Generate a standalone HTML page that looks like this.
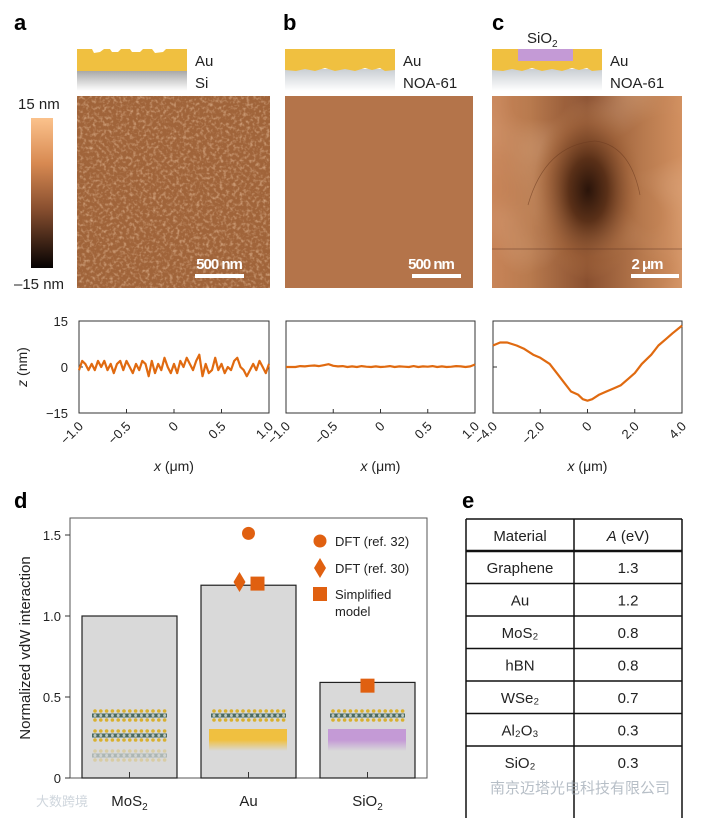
<!DOCTYPE html>
<html><head><meta charset="utf-8">
<style>
body{margin:0;background:#fff;}
#wrap{position:relative;width:714px;height:818px;overflow:hidden;font-family:"Liberation Sans","Noto Sans CJK SC",sans-serif;}
svg{position:absolute;left:0;top:0;}
text{font-family:"Liberation Sans","Noto Sans CJK SC",sans-serif;}
</style></head>
<body>
<div id="wrap">
<svg id="fig" width="714" height="818" viewBox="0 0 714 818">
<defs>
<filter id="grain" x="0" y="0" width="100%" height="100%">
<feTurbulence type="fractalNoise" baseFrequency="0.3" numOctaves="2" seed="3"/>
<feColorMatrix type="matrix" values="0 0 0 0 0.80  0 0 0 0 0.52  0 0 0 0 0.33  0 0 0 1.6 -0.75"/>
</filter>
<filter id="soft" x="0" y="0" width="100%" height="100%">
<feTurbulence type="fractalNoise" baseFrequency="0.012" numOctaves="2" seed="8"/>
<feColorMatrix type="matrix" values="0 0 0 0 0.85  0 0 0 0 0.58  0 0 0 0 0.40  0 0 0 0.8 -0.35"/>
</filter>
<linearGradient id="cbar" x1="0" y1="0" x2="0" y2="1">
<stop offset="0" stop-color="#fbc28c"/><stop offset="0.3" stop-color="#d88a52"/><stop offset="0.6" stop-color="#8a5030"/><stop offset="1" stop-color="#050202"/>
</linearGradient>
<linearGradient id="fadeGray" x1="0" y1="0" x2="0" y2="1"><stop offset="0" stop-color="#a8a8a8"/><stop offset="1" stop-color="#fff"/></linearGradient>
<linearGradient id="fadeNoa" x1="0" y1="0" x2="0" y2="1"><stop offset="0" stop-color="#c9ced3"/><stop offset="1" stop-color="#fff"/></linearGradient>
<linearGradient id="fadeAu" x1="0" y1="0" x2="0" y2="1"><stop offset="0.5" stop-color="#f0c040"/><stop offset="1" stop-color="#f0c040" stop-opacity="0"/></linearGradient>
<linearGradient id="fadeSi" x1="0" y1="0" x2="0" y2="1"><stop offset="0.5" stop-color="#c49ad6"/><stop offset="1" stop-color="#c49ad6" stop-opacity="0"/></linearGradient>
<radialGradient id="cdark" cx="0.5" cy="0.5" r="0.5">
<stop offset="0" stop-color="#2a140a"/><stop offset="0.35" stop-color="#5a3018"/><stop offset="0.75" stop-color="#9a5e36" stop-opacity="0.6"/><stop offset="1" stop-color="#b07444" stop-opacity="0"/>
</radialGradient>
<linearGradient id="cside" x1="0" y1="0" x2="1" y2="0">
<stop offset="0" stop-color="#c88458"/><stop offset="0.2" stop-color="#b87a4e"/><stop offset="0.5" stop-color="#8a5030"/><stop offset="0.8" stop-color="#b87a4e"/><stop offset="1" stop-color="#d29060"/>
</linearGradient>
</defs>

<!-- panel labels -->
<text x="14" y="30" font-size="22" font-weight="bold">a</text>
<text x="283" y="30" font-size="22" font-weight="bold">b</text>
<text x="492" y="30" font-size="22" font-weight="bold">c</text>
<text x="14" y="508" font-size="22" font-weight="bold">d</text>
<text x="462" y="508" font-size="22" font-weight="bold">e</text>

<!-- schematics -->
<g>
<rect x="77" y="71" width="110" height="20" fill="url(#fadeGray)"/>
<path d="M77 49 L92 49 L94 53 L100 52 L104 49 L110 49 L112 52 L118 52 L121 49 L130 49 L132 52 L140 52 L143 49 L152 49 L155 53 L163 52 L166 49 L187 49 L187 71 L77 71 Z" fill="#f0c040"/>
<text x="195" y="66" font-size="15" fill="#222">Au</text><text x="195" y="88" font-size="15" fill="#222">Si</text>
</g>
<g>
<rect x="285" y="69" width="110" height="22" fill="url(#fadeNoa)"/>
<path d="M285 49 L395 49 L395 70 L385 71 L380 68 L372 70 L365 68 L355 71 L345 69 L335 71 L325 68 L315 71 L305 69 L296 71 L285 70 Z" fill="#f0c040"/>
<text x="403" y="66" font-size="15" fill="#222">Au</text><text x="403" y="88" font-size="15" fill="#222">NOA-61</text>
</g>
<g>
<rect x="492" y="69" width="110" height="22" fill="url(#fadeNoa)"/>
<path d="M492 49 L602 49 L602 70 L592 71 L587 68 L579 70 L572 68 L562 71 L552 69 L542 71 L532 68 L522 71 L512 69 L503 71 L492 70 Z" fill="#f0c040"/>
<rect x="518" y="49" width="55" height="12" fill="#c49ad6"/>
<text x="527" y="43" font-size="15" fill="#222">SiO<tspan font-size="10" dy="4">2</tspan></text>
<text x="610" y="66" font-size="15" fill="#222">Au</text><text x="610" y="88" font-size="15" fill="#222">NOA-61</text>
</g>

<!-- colorbar -->
<g>
<rect x="31" y="118" width="22" height="150" fill="url(#cbar)"/>
<text x="18" y="109" font-size="15" fill="#222">15 nm</text>
<text x="14" y="289" font-size="15" fill="#222">–15 nm</text>
</g>

<!-- AFM images -->
<g>
<rect x="77" y="96" width="193" height="192" fill="#a0643a"/>
<rect x="77" y="96" width="193" height="192" filter="url(#grain)"/>
<rect x="195" y="274" width="49" height="4" fill="#fff"/>
<text x="219" y="269" font-size="15" font-weight="bold" fill="#fff" text-anchor="middle" letter-spacing="-1">500 nm</text>
</g>
<g>
<rect x="285" y="96" width="188" height="192" fill="#b4744a"/>
<rect x="412" y="274" width="49" height="4" fill="#fff"/>
<text x="431" y="269" font-size="15" font-weight="bold" fill="#fff" text-anchor="middle" letter-spacing="-1">500 nm</text>
</g>
<g>
<rect x="492" y="96" width="190" height="192" fill="url(#cside)"/>
<rect x="492" y="96" width="190" height="192" filter="url(#soft)"/>
<ellipse cx="588" cy="190" rx="55" ry="90" fill="url(#cdark)"/>
<path d="M528 205 Q545 145 595 141 Q630 145 640 195" fill="none" stroke="#6a3a20" stroke-width="0.7" opacity="0.6"/>
<line x1="492" y1="249" x2="682" y2="249" stroke="#5a3020" stroke-width="0.8" opacity="0.6"/>
<rect x="631" y="274" width="48" height="4" fill="#fff"/>
<text x="647" y="269" font-size="15" font-weight="bold" fill="#fff" text-anchor="middle" letter-spacing="-1">2 μm</text>
</g>

<text transform="translate(27,367) rotate(-90)" font-size="14" text-anchor="middle" fill="#222"><tspan font-style="italic">z</tspan> (nm)</text>
<g id="profiles"></g>

<g id="chartd"></g>
<g id="tablee"></g>

<text x="490" y="793" font-size="15" fill="#9aa4b0" opacity="0.7">南京迈塔光电科技有限公司</text>
<text x="36" y="806" font-size="13" fill="#cfd6dd">大数跨境</text>
</svg>
</div>
<script>
// ---------- profile data ----------
const profAz = [-1,2,1,-1,1,-1,2,0,2,-1,1,-2,1,2,-1,2,0,-2,1,-1,2,1,-3,2,-2,1,-1,3,0,-2,1,-2,2,0,3,1,-1,2,4,-3,1,-2,-1,3,-1,1,-2,0,-1,2,3,0,-1,-3,-1,1,-1,2,0,-2,1];
const profBz = [0,0,0,0.3,0.2,0.4,0.5,0.3,0.6,0.9,0.4,0.2,0.3,0,0.2,0,0.3,0.1,0,0.2,0,0.1,0.3,0,0.2,0.1,0,0.3,0,0.2,0.1,0.3,0,0.2,0,0.1,0.3,0.2,0,0.2,0.8];
const profCx = [-4.0,-3.7,-3.4,-3.0,-2.7,-2.3,-2.0,-1.6,-1.3,-1.0,-0.7,-0.4,-0.2,0,0.2,0.5,0.8,1.1,1.4,1.7,2.0,2.3,2.7,3.0,3.3,3.6,4.0];
const profCz = [7,8,8,7,6,4,3,1,-2,-5,-8,-9,-10.5,-11,-10.5,-9,-8,-7,-6,-4,-2,1,4,7,9,11,13.5];
const xTicksAB = [-1.0,-0.5,0,0.5,1.0];
const xTickLabelsAB = ["−1.0","−0.5","0","0.5","1.0"];
const xTicksC = [-4,-2,0,2,4];
const xTickLabelsC = ["−4.0","−2.0","0","2.0","4.0"];
const yTicks = [15,0,-15];

// ---------- bar chart data ----------
const barCats = ["MoS2","Au","SiO2"];
const barVals = [1.0,1.19,0.59];
const dft32 = [null,1.51,null];
const dft30 = [null,1.21,null];
const simple = [null,1.2,0.57];
const barYTicks = [0,0.5,1.0,1.5];
const barYTickLabels = ["0","0.5","1.0","1.5"];

// ---------- table data ----------
const tblMaterials = ["Graphene","Au","MoS₂","hBN","WSe₂","Al₂O₃","SiO₂"];
const tblA = ["1.3","1.2","0.8","0.8","0.7","0.3","0.3"];

const NS="http://www.w3.org/2000/svg";
function mk(tag,attrs,parent){const e=document.createElementNS(NS,tag);for(const k in attrs)e.setAttribute(k,attrs[k]);parent.appendChild(e);return e;}

const prof=document.getElementById('profiles');
function drawProfile(name,x0,x1,xmin,xmax,xs,zs,ticks,labels){
  const y0=321,y1=413;
  const sx=v=>x0+(v-xmin)/(xmax-xmin)*(x1-x0);
  const sy=v=>y0+(15-v)/30*(y1-y0);
  const g=mk('g',{},prof);
  
  
  const fr=mk('rect',{x:x0,y:y0,width:x1-x0,height:y1-y0,fill:'none',stroke:'#333','stroke-width':1},g);
  
  
  ticks.forEach((t,i)=>{
    mk('line',{x1:sx(t),x2:sx(t),y1:y1,y2:y1-4,stroke:'#333'},g);
    const tx=mk('text',{x:0,y:0,'font-size':13,fill:'#222','text-anchor':'end',transform:`translate(${sx(t)+5},${y1+14}) rotate(-45)`},g);
    tx.textContent=labels[i];
    
    
  });
  yTicks.forEach(t=>{mk('line',{x1:x0,x2:x0+4,y1:sy(t),y2:sy(t),stroke:'#333'},g);});
  let d='';
  zs.forEach((z,i)=>{const xv=xs?xs[i]:xmin+i*(xmax-xmin)/(zs.length-1);d+=(i?'L':'M')+sx(xv).toFixed(1)+' '+sy(z).toFixed(1);});
  const p=mk('path',{d:d,fill:'none',stroke:'#e06a10','stroke-width':2.2,'stroke-linejoin':'round'},g);
  
  
  const xt=mk('text',{x:(x0+x1)/2,y:471,'font-size':14,fill:'#222','text-anchor':'middle'},g);
  xt.innerHTML='<tspan font-style="italic">x</tspan> (μm)';
  
  
}
drawProfile('profile-a',79,269,-1,1,null,profAz,xTicksAB,xTickLabelsAB);
drawProfile('profile-b',286,475,-1,1,null,profBz,xTicksAB,xTickLabelsAB);
drawProfile('profile-c',493,682,-4,4,profCx,profCz,xTicksC,xTickLabelsC);
[['15',321],['0',367],['−15',413]].forEach(a=>{const t=mk('text',{x:68,y:a[1]+5,'font-size':13,fill:'#222','text-anchor':'end'},prof);t.textContent=a[0];

});

// ---------- chart d ----------
const cd=document.getElementById('chartd');
const X0=70,X1=427,Y0=778,YT=518;
const sy=v=>Y0-v*162;
const bw=95, bx=i=>82+i*119;
mk('rect',{x:X0,y:YT,width:X1-X0,height:Y0-YT,fill:'none',stroke:'#555','stroke-width':1},cd);
barYTicks.forEach((t,i)=>{mk('line',{x1:X0-5,x2:X0,y1:sy(t),y2:sy(t),stroke:'#333'},cd);
 const tx=mk('text',{x:X0-9,y:sy(t)+5,'font-size':13,fill:'#222','text-anchor':'end'},cd);tx.textContent=barYTickLabels[i];
 
 });
const yt=mk('text',{transform:'translate(30,648) rotate(-90)','font-size':15,fill:'#222','text-anchor':'middle'},cd);
yt.textContent='Normalized vdW interaction';


function layer(x,y,op,g){
  const l=mk('g',{opacity:op},g);
  for(let k=0;k<13;k++){const cx=x+3+k*5.8;
    mk('circle',{cx:cx,cy:y,r:1.8,fill:'#d8b030'},l);mk('circle',{cx:cx,cy:y+9,r:1.8,fill:'#d8b030'},l);}
  mk('rect',{x:x,y:y+2.5,width:75,height:4,fill:'#4a6a60'},l);
  for(let k=0;k<13;k++)mk('circle',{cx:x+3+k*5.8,cy:y+4.5,r:1.5,fill:'#c0c8c0'},l);
}
barCats.forEach((c,i)=>{
  const g=mk('g',{},cd);
  
  
  mk('rect',{x:bx(i),y:sy(barVals[i]),width:bw,height:Y0-sy(barVals[i]),fill:'#d9d9d9',stroke:'#222','stroke-width':1.2},g);
  mk('line',{x1:bx(i)+bw/2,x2:bx(i)+bw/2,y1:Y0,y2:Y0-6,stroke:'#333'},g);
  const lx=bx(i)+10;
  layer(lx,711,1,g);
  if(i===0){layer(lx,731,1,g);layer(lx,751,0.3,g);}
  if(i===1)mk('rect',{x:bx(i)+8,y:729,width:78,height:22,fill:'url(#fadeAu)'},g);
  if(i===2)mk('rect',{x:bx(i)+8,y:729,width:78,height:22,fill:'url(#fadeSi)'},g);
  const lab=mk('text',{x:bx(i)+bw/2,y:806,'font-size':15,fill:'#222','text-anchor':'middle'},cd);
  lab.innerHTML=c.replace('2','<tspan font-size="10" dy="4">2</tspan>');
  
  
  const cx=bx(i)+bw/2;
  if(dft32[i]!=null){const m=mk('circle',{cx:cx,cy:sy(dft32[i]),r:6.5,fill:'#e06010'},cd);
    
    }
  if(dft30[i]!=null){const y=sy(dft30[i]);const m=mk('path',{d:`M${cx-9} ${y-10} l6 10 l-6 10 l-6 -10 Z`,fill:'#e06010'},cd);
    
    }
  if(simple[i]!=null){const dx=i===1?9:0;const y=sy(simple[i]);const m=mk('rect',{x:cx+dx-7,y:y-7,width:14,height:14,fill:'#e06010'},cd);
    
    }
});
const lg=mk('g',{},cd);


mk('circle',{cx:320,cy:541,r:6.5,fill:'#e06010'},lg);
mk('path',{d:'M320 558 l6 10 l-6 10 l-6 -10 Z',fill:'#e06010'},lg);
mk('rect',{x:313,y:587,width:14,height:14,fill:'#e06010'},lg);
[['DFT (ref. 32)',546],['DFT (ref. 30)',573],['Simplified',599],['model',616]].forEach(a=>{const t=mk('text',{x:335,y:a[1],'font-size':13,fill:'#222'},lg);t.textContent=a[0];});

// ---------- table e ----------
const te=document.getElementById('tablee');


const TX0=466,TX1=682,TM=574,TY0=519,rh=32.5;
mk('line',{x1:TX0,x2:TX1,y1:TY0,y2:TY0,stroke:'#111','stroke-width':1.5},te);
mk('line',{x1:TX0,x2:TX0,y1:TY0,y2:818,stroke:'#111','stroke-width':1.5},te);
mk('line',{x1:TX1,x2:TX1,y1:TY0,y2:818,stroke:'#111','stroke-width':1.5},te);
mk('line',{x1:TM,x2:TM,y1:TY0,y2:818,stroke:'#111','stroke-width':1.5},te);
const h1=mk('text',{x:(TX0+TM)/2,y:TY0+22,'font-size':15,fill:'#222','text-anchor':'middle'},te);h1.textContent='Material';
const h2=mk('text',{x:(TM+TX1)/2,y:TY0+22,'font-size':15,fill:'#222','text-anchor':'middle'},te);h2.innerHTML='<tspan font-style="italic">A</tspan> (eV)';
mk('line',{x1:TX0,x2:TX1,y1:TY0+32,y2:TY0+32,stroke:'#111','stroke-width':2.5},te);
tblMaterials.forEach((m,i)=>{
  const yb=TY0+32+i*rh;
  if(i>0)mk('line',{x1:TX0,x2:TX1,y1:yb,y2:yb,stroke:'#111','stroke-width':1.5},te);
  const a=mk('text',{x:(TX0+TM)/2,y:yb+22,'font-size':15,fill:'#222','text-anchor':'middle'},te);a.textContent=m;
  
  
  const b=mk('text',{x:(TM+TX1)/2,y:yb+22,'font-size':15,fill:'#222','text-anchor':'middle'},te);b.textContent=tblA[i];
  
  
});
</script>
</body></html>
